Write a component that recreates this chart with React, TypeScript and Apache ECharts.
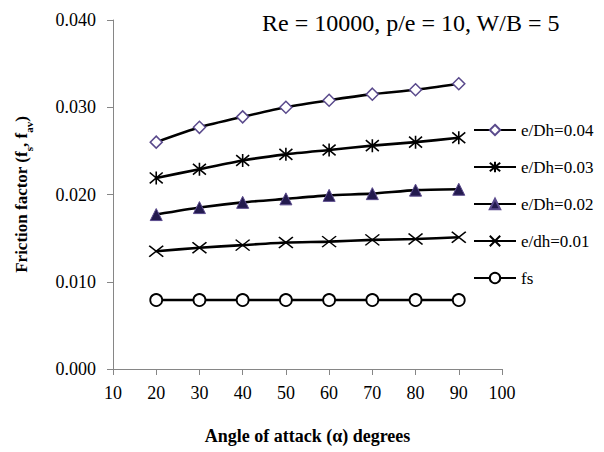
import React, { useEffect, useRef } from "react";
import * as echarts from "echarts";

const angles = [20, 30, 40, 50, 60, 70, 80, 90];
const e004 = [0.026, 0.0277, 0.0289, 0.03, 0.0308, 0.0315, 0.032, 0.0327];
const e003 = [0.0219, 0.0229, 0.0239, 0.0246, 0.0251, 0.0256, 0.026, 0.0265];
const e002 = [0.0177, 0.0185, 0.0191, 0.0195, 0.0199, 0.0201, 0.0205, 0.0206];
const e001 = [0.0135, 0.0139, 0.0142, 0.0145, 0.0146, 0.0148, 0.0149, 0.0151];
const fs = [0.0079, 0.0079, 0.0079, 0.0079, 0.0079, 0.0079, 0.0079, 0.0079];
const seriesNames = ["e/Dh=0.04", "e/Dh=0.03", "e/Dh=0.02", "e/dh=0.01", "fs"];

const FONT = "Liberation Serif";

const toPairs = (ys: number[]) => angles.map((a, i) => [a, ys[i]]);

export default function App() {
  const ref = useRef<HTMLDivElement>(null);
  useEffect(() => {
    if (!ref.current) return;
    const chart = echarts.init(ref.current, undefined, { renderer: "svg" });
    const lineStyle = { color: "#000", width: 2.6 };
    const base = {
      type: "line",
      smooth: 0.2,
      lineStyle,
      z: 3,
    };
    chart.setOption({
      animation: false,
      backgroundColor: "#fff",
      textStyle: { fontFamily: FONT, color: "#000" },
      title: {
        text: "Re = 10000, p/e = 10, W/B = 5",
        left: 257,
        top: 6,
        textStyle: { fontSize: 24, fontFamily: FONT, fontWeight: "normal", color: "#000" },
      },
      grid: { left: 113, right: 102, top: 20, bottom: 83 },
      legend: {
        orient: "vertical",
        left: 468,
        top: 115,
        itemWidth: 42,
        itemHeight: 13,
        itemGap: 17,
        textStyle: {
          fontSize: 17,
          fontFamily: FONT,
          color: "#000",
          lineHeight: 20,
        },
        data: seriesNames,
      },
      xAxis: {
        type: "value",
        min: 10,
        max: 100,
        interval: 10,
        name: "Angle of attack (α) degrees",
        nameLocation: "middle",
        nameGap: 58,
        nameTextStyle: { fontSize: 18, fontWeight: "bold", fontFamily: FONT, color: "#000" },
        axisLine: { show: true, lineStyle: { color: "#868686", width: 1 } },
        axisTick: { show: true, length: 6, lineStyle: { color: "#868686" } },
        axisLabel: {
          fontSize: 18,
          fontFamily: FONT,
          color: "#000",
          margin: 15,
        },
        splitLine: { show: false },
      },
      yAxis: {
        type: "value",
        min: 0,
        max: 0.04,
        interval: 0.01,
        name: "{m|Friction factor (f}{s|s}{m|, f}{s|av}{m|)}",
        nameLocation: "middle",
        nameRotate: 90,
        nameGap: 80,
        nameTextStyle: {
          fontFamily: FONT,
          color: "#000",
          rich: {
            m: { fontSize: 17, fontWeight: "bold", fontFamily: FONT, color: "#000", verticalAlign: "top", lineHeight: 20 },
            s: { fontSize: 11, fontWeight: "bold", fontFamily: FONT, color: "#000", verticalAlign: "top", lineHeight: 11, padding: [10, 0, 0, 0] },
          },
        },
        axisLine: { show: true, lineStyle: { color: "#868686", width: 1 } },
        axisTick: { show: true, length: 6, lineStyle: { color: "#868686" } },
        axisLabel: {
          fontSize: 18,
          fontFamily: FONT,
          color: "#000",
          margin: 17,
          formatter: (v: number) => v.toFixed(3),
        },
        splitLine: { show: false },
      },
      series: [
        {
          ...base,
          name: seriesNames[0],
          data: toPairs(e004),
          symbol: "diamond",
          symbolSize: 12,
          itemStyle: { color: "#fff", borderColor: "#5a4a8c", borderWidth: 1.5 },
        },
        {
          ...base,
          name: seriesNames[1],
          data: toPairs(e003),
          symbol: "path://M0,1L12,11M0,11L12,1M6,0L6,12",
          symbolSize: 13,
          itemStyle: { color: "#000", borderColor: "#000", borderWidth: 1.6 },
        },
        {
          ...base,
          name: seriesNames[2],
          data: toPairs(e002),
          symbol: "triangle",
          symbolSize: 12,
          itemStyle: { color: "#231a4e", borderColor: "#5a4a8c", borderWidth: 1 },
        },
        {
          ...base,
          name: seriesNames[3],
          data: toPairs(e001),
          symbol: "path://M0,0L12,10M0,10L12,0",
          symbolSize: [14, 11],
          itemStyle: { color: "#000", borderColor: "#000", borderWidth: 1.5 },
        },
        {
          ...base,
          smooth: false,
          name: seriesNames[4],
          data: toPairs(fs),
          symbol: "circle",
          symbolSize: 12,
          itemStyle: { color: "#fff", borderColor: "#000", borderWidth: 1.8 },
        },
      ],
    });
    return () => chart.dispose();
  }, []);
  return (
    <div
      ref={ref}
      style={{ position: "fixed", left: 0, top: 0, width: 604, height: 452, background: "#fff" }}
    />
  );
}
